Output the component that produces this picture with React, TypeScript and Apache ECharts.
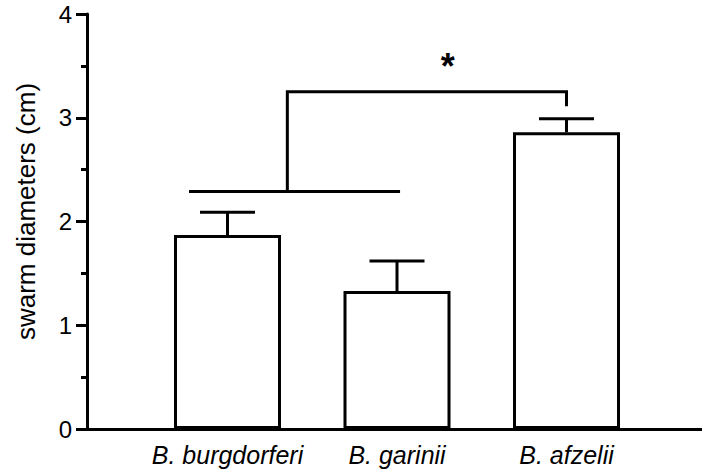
import React, { useEffect, useRef } from "react";
import * as echarts from "echarts";

const categories = ["B. burgdorferi", "B. garinii", "B. afzelii"];
const means = [1.87, 1.33, 2.86];
const errors = [0.22, 0.29, 0.13];
const yTicks = [0, 1, 2, 3, 4];
// significance bracket, x in category-index units, y in cm
const groupLine = [[-0.227, 2.29], [1.018, 2.29]];
const bracketPath = [[0.353, 2.29], [0.353, 3.25], [2.0, 3.25], [2.0, 3.11]];
const starPos = [1.3, 3.49];
const starText = "*";

const FONT = "'Liberation Sans', Arial, Helvetica, sans-serif";

export default function App() {
  const ref = useRef<HTMLDivElement>(null);
  useEffect(() => {
    if (!ref.current) return;
    const chart = echarts.init(ref.current, undefined, { renderer: "svg" });
    const top = 14;
    const bottom = 40;
    const option: any = {
      animation: false,
      backgroundColor: "#fff",
      grid: [
        { left: 87, right: 0, top, bottom },
        { left: 142.75, right: 50.75, top, bottom },
      ],
      xAxis: [
        {
          gridIndex: 0,
          type: "value",
          min: 0,
          max: 1,
          axisLine: { show: true, lineStyle: { color: "#000", width: 3 } },
          axisTick: { show: false },
          axisLabel: { show: false },
          splitLine: { show: false },
        },
        {
          gridIndex: 1,
          type: "category",
          data: categories,
          axisLine: { show: false },
          axisTick: { show: false },
          axisLabel: {
            show: true,
            interval: 0,
            color: "#000",
            fontFamily: FONT,
            fontSize: 25,
            fontStyle: "italic",
            margin: 13,
          },
        },
        {
          gridIndex: 1,
          type: "value",
          min: -0.5,
          max: 2.5,
          show: false,
        },
      ],
      yAxis: [
        {
          gridIndex: 0,
          type: "value",
          min: yTicks[0],
          max: yTicks[yTicks.length - 1],
          interval: 1,
          name: "swarm diameters (cm)",
          nameLocation: "middle",
          nameGap: 48,
          nameTextStyle: {
            color: "#000",
            fontFamily: FONT,
            fontSize: 26,
            padding: [0, 0, 0, 20],
          },
          axisLine: { show: true, lineStyle: { color: "#000", width: 3 } },
          axisTick: { show: true, length: 11, lineStyle: { color: "#000", width: 3 } },
          minorTick: { show: true, splitNumber: 2, length: 6, lineStyle: { color: "#000", width: 3 } },
          axisLabel: { color: "#000", fontFamily: FONT, fontSize: 24, margin: 15 },
          splitLine: { show: false },
        },
        { gridIndex: 1, type: "value", min: 0, max: 4, show: false },
      ],
      series: [
        {
          type: "bar",
          xAxisIndex: 1,
          yAxisIndex: 1,
          data: means,
          barWidth: 107,
          itemStyle: { color: "#fff", borderColor: "#000", borderWidth: 3 },
          z: 3,
        },
        {
          type: "custom",
          xAxisIndex: 1,
          yAxisIndex: 1,
          data: means.map((m, i) => [i, m, m + errors[i]]),
          renderItem: (params: any, api: any) => {
            const i = api.value(0);
            const p0 = api.coord([i, api.value(1)]);
            const p1 = api.coord([i, api.value(2)]);
            const half = 27.5;
            const style = { stroke: "#000", lineWidth: 3 };
            return {
              type: "group",
              children: [
                { type: "line", shape: { x1: p0[0], y1: p0[1], x2: p1[0], y2: p1[1] }, style },
                { type: "line", shape: { x1: p1[0] - half, y1: p1[1], x2: p1[0] + half, y2: p1[1] }, style },
              ],
            };
          },
          z: 4,
        },
        {
          type: "custom",
          xAxisIndex: 2,
          yAxisIndex: 1,
          data: [[0]],
          renderItem: (params: any, api: any) => {
            const style = { stroke: "#000", lineWidth: 3, fill: "none" };
            const g0 = api.coord(groupLine[0]);
            const g1 = api.coord(groupLine[1]);
            const pts = bracketPath.map((p) => api.coord(p));
            const s = api.coord(starPos);
            return {
              type: "group",
              children: [
                { type: "line", shape: { x1: g0[0], y1: g0[1], x2: g1[0], y2: g1[1] }, style },
                { type: "polyline", shape: { points: pts }, style },
                {
                  type: "text",
                  x: s[0],
                  y: s[1],
                  style: {
                    text: starText,
                    fill: "#000",
                    font: `bold 36px ${FONT}`,
                    textAlign: "center",
                    textVerticalAlign: "middle",
                  },
                },
              ],
            };
          },
          z: 5,
        },
      ],
    };
    chart.setOption(option);
    return () => chart.dispose();
  }, []);
  return <div ref={ref} style={{ width: 702, height: 469, position: "absolute", left: 0, top: 0 }} />;
}
